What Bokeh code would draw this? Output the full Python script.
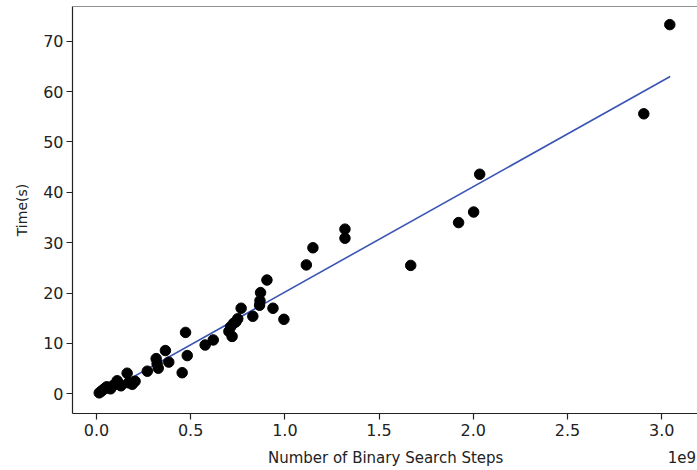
from bokeh.plotting import figure
from bokeh.models import FixedTicker, NumeralTickFormatter, Span, Range1d, LinearAxis
from bokeh.embed import file_html
from bokeh.resources import INLINE

# Number of binary search steps (units of 1e9) and measured time (s)
steps_1e9 = [0.015, 0.025, 0.035, 0.045, 0.055, 0.065, 0.075, 0.09, 0.11, 0.12,
             0.13, 0.163, 0.17, 0.19, 0.205, 0.27, 0.317, 0.322, 0.328, 0.366,
             0.384, 0.455, 0.473, 0.482, 0.577, 0.620, 0.703, 0.712, 0.720, 0.728,
             0.740, 0.750, 0.768, 0.830, 0.866, 0.868, 0.871, 0.905, 0.937, 0.995,
             1.114, 1.149, 1.319, 1.319, 1.668, 1.922, 2.002, 2.034, 2.905, 3.043]
time_s = [0.2, 0.5, 0.8, 1.1, 1.4, 1.2, 1.0, 1.7, 2.6, 2.0,
          1.6, 4.1, 2.2, 1.9, 2.5, 4.5, 7.0, 6.0, 5.1, 8.6,
          6.3, 4.2, 12.2, 7.6, 9.7, 10.7, 12.4, 13.3, 11.4, 14.0,
          14.3, 14.9, 17.0, 15.4, 17.6, 18.5, 20.1, 22.6, 17.0, 14.8,
          25.6, 29.0, 30.9, 32.7, 25.5, 34.0, 36.1, 43.6, 55.6, 73.3]

# Fitted regression line end points
fit_x = [0.02, 3.045]
fit_y = [-0.3, 63.0]

x_ticks = [0.0, 0.5, 1.0, 1.5, 2.0, 2.5, 3.0]
y_ticks = [0, 10, 20, 30, 40, 50, 60, 70]
x_label = "Number of Binary Search Steps"
x_offset_label = "1e9"

FONT = "DejaVu Sans"

p = figure(width=697, height=470, output_backend="svg", toolbar_location=None,
           x_range=Range1d(-0.127, 3.19), y_range=Range1d(-3.9, 76.9),
           min_border_left=72, min_border_right=0, min_border_top=6,
           min_border_bottom=57)
p.outline_line_color = None
p.grid.visible = False
p.background_fill_color = "white"
p.border_fill_color = "white"

p.line(fit_x, fit_y, line_color="#3a55b4", line_width=1.6)
p.scatter(steps_1e9, time_s, size=10.5, fill_color="black", line_color="black")

# top border of the axes box
p.add_layout(Span(location=76.9, dimension="width", line_color="#222222", line_width=1.2))

for ax in (p.xaxis[0], p.yaxis[0]):
    ax.axis_line_color = "#222222"
    ax.axis_line_width = 1.2
    ax.major_tick_line_color = "#222222"
    ax.major_tick_line_width = 1.2
    ax.major_tick_out = 6
    ax.major_tick_in = 0
    ax.minor_tick_line_color = None
    ax.major_label_text_font = FONT
    ax.major_label_text_font_size = "16px"
    ax.major_label_text_color = "#222222"
    ax.axis_label_text_font = FONT
    ax.axis_label_text_font_size = "14px"
    ax.axis_label_text_font_style = "normal"
    ax.axis_label_text_color = "#222222"

p.xaxis[0].ticker = FixedTicker(ticks=x_ticks)
p.xaxis[0].formatter = NumeralTickFormatter(format="0.0")
p.xaxis[0].major_label_standoff = 4

p.yaxis[0].ticker = FixedTicker(ticks=y_ticks)
p.yaxis[0].major_label_standoff = 3
p.yaxis[0].axis_label = "Time(s)"
p.yaxis[0].axis_label_standoff = 10

# second row below the x axis: axis title (centred) and offset text "1e9" (right)
label_row = LinearAxis(ticker=FixedTicker(ticks=[1.535, 3.107]),
                       major_label_overrides={1.535: x_label, 3.107: x_offset_label},
                       axis_line_color=None, major_tick_line_color=None,
                       minor_tick_line_color=None, major_label_standoff=4,
                       major_label_text_font=FONT, major_label_text_font_size="15px",
                       major_label_text_color="#222222")
p.add_layout(label_row, "below")

open("out.html", "w").write(file_html(p, INLINE))
